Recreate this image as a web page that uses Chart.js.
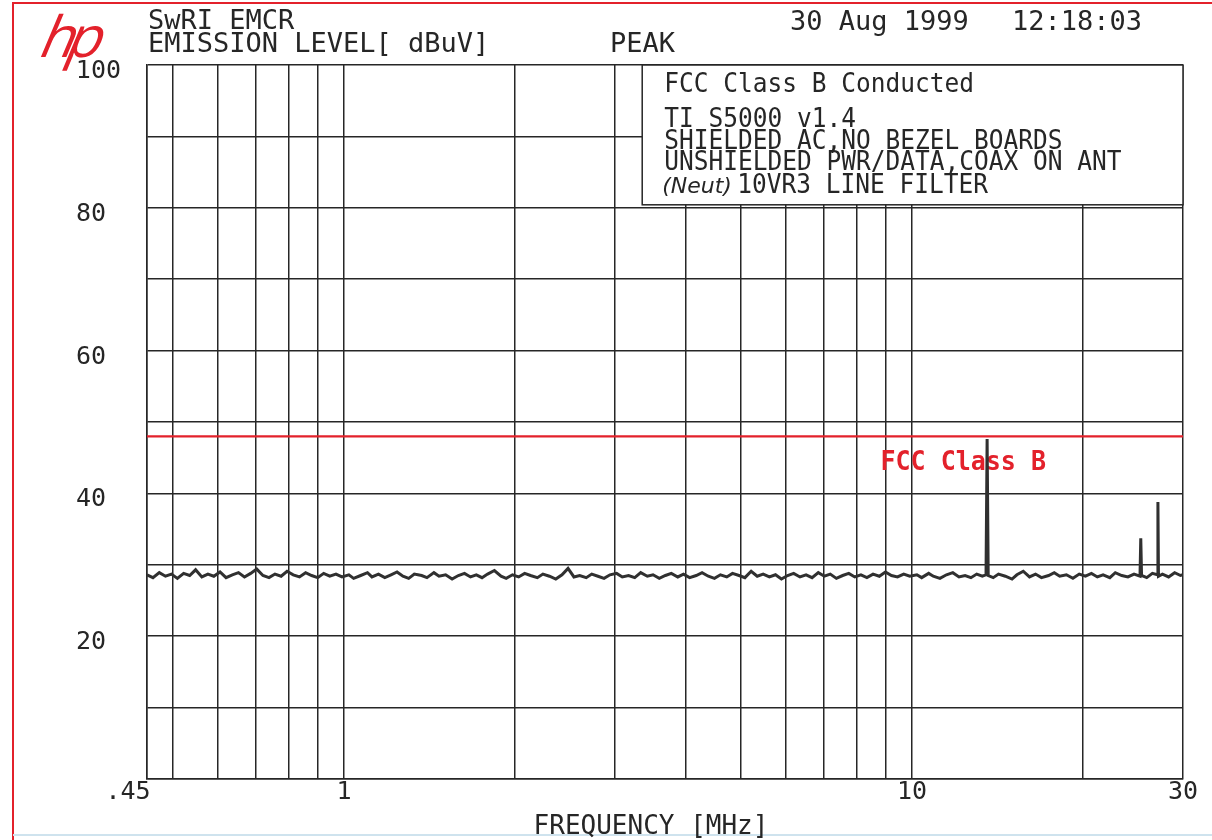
<!DOCTYPE html>
<html>
<head>
<meta charset="utf-8">
<script src="https://cdn.jsdelivr.net/npm/chart.js@4.4.0/dist/chart.umd.min.js"></script>
<style>
  html, body { margin: 0; padding: 0; background: #fff; }
  #wrap { width: 1212px; height: 840px; position: relative; }
</style>
</head>
<body>
<div id="wrap"><canvas id="plot" width="1212" height="840"></canvas></div>
<script>
// sweep frequencies (MHz)
const freqMHz = [
  0.450, 0.461, 0.473, 0.485, 0.497, 0.509, 0.522, 0.535, 0.548, 0.562,
  0.576, 0.590, 0.605, 0.620, 0.636, 0.652, 0.668, 0.685, 0.702, 0.720,
  0.738, 0.756, 0.775, 0.794, 0.814, 0.835, 0.856, 0.877, 0.899, 0.921,
  0.944, 0.968, 0.992,
  1.02, 1.04, 1.07, 1.10, 1.12, 1.15, 1.18, 1.21, 1.24, 1.27,
  1.30, 1.33, 1.37, 1.40, 1.44, 1.47, 1.51, 1.55, 1.59, 1.63,
  1.67, 1.71, 1.75, 1.79, 1.84, 1.89, 1.93, 1.98, 2.03, 2.08,
  2.13, 2.19, 2.24, 2.30, 2.36, 2.42, 2.48, 2.54, 2.60, 2.67,
  2.73, 2.80, 2.87, 2.94, 3.02, 3.09, 3.17, 3.25, 3.33, 3.42,
  3.50, 3.59, 3.68, 3.77, 3.87, 3.96, 4.06, 4.17, 4.27, 4.38,
  4.49, 4.60, 4.72, 4.83, 4.96, 5.08, 5.21, 5.34, 5.47, 5.61,
  5.75, 5.89, 6.04, 6.19, 6.35, 6.51, 6.67, 6.84, 7.01, 7.18,
  7.36, 7.55, 7.74, 7.93, 8.13, 8.33, 8.54, 8.76, 8.98, 9.20,
  9.43, 9.67, 9.91,
  10.2, 10.4, 10.7, 10.9, 11.2, 11.5, 11.8, 12.1, 12.4, 12.7,
  13.0, 13.3, 13.50, 13.56, 13.62, 13.9, 14.2, 14.6, 15.0, 15.3,
  15.7, 16.1, 16.5, 16.9, 17.4, 17.8, 18.2, 18.7, 19.2, 19.7,
  20.2, 20.7, 21.2, 21.7, 22.3, 22.8, 23.4, 24.0, 24.6, 25.2,
  25.28, 25.36, 25.9, 26.5, 27.04, 27.1, 27.16, 27.6, 28.3, 29.0,
  29.7, 30.0
];

// peak emission level (dBuV)
const levelDbuV = [
  28.6, 28.2, 28.9, 28.4, 28.7, 28.1, 28.8, 28.5, 29.3, 28.3,
  28.7, 28.4, 29.0, 28.2, 28.6, 28.9, 28.3, 28.8, 29.4, 28.5,
  28.2, 28.7, 28.4, 29.1, 28.6, 28.3, 28.9, 28.5, 28.2, 28.8,
  28.4, 28.7, 28.3,
  28.6, 28.1, 28.5, 28.9, 28.3, 28.7, 28.2, 28.6, 29.0, 28.4,
  28.1, 28.7, 28.5, 28.2, 28.9, 28.4, 28.6, 28.0, 28.5, 28.8,
  28.3, 28.6, 28.2, 28.7, 29.2, 28.4, 28.1, 28.6, 28.3, 28.8,
  28.5, 28.2, 28.7, 28.4, 28.0, 28.6, 29.5, 28.3, 28.5, 28.2,
  28.7, 28.4, 28.1, 28.6, 28.8, 28.3, 28.5, 28.2, 28.9, 28.4,
  28.6, 28.1, 28.5, 28.8, 28.3, 28.7, 28.2, 28.5, 28.9, 28.4,
  28.1, 28.6, 28.3, 28.8, 28.5, 28.2, 29.1, 28.4, 28.7, 28.3,
  28.6, 28.0, 28.5, 28.8, 28.3, 28.6, 28.2, 28.9, 28.4, 28.7,
  28.1, 28.5, 28.8, 28.3, 28.6, 28.2, 28.7, 28.4, 29.0, 28.5,
  28.3, 28.7, 28.4,
  28.6, 28.2, 28.8, 28.4, 28.1, 28.6, 28.9, 28.3, 28.5, 28.2,
  28.7, 28.4, 28.6, 47.6, 28.5, 28.2, 28.7, 28.4, 28.0, 28.6,
  29.1, 28.3, 28.7, 28.2, 28.5, 28.9, 28.4, 28.6, 28.1, 28.7,
  28.4, 28.8, 28.3, 28.6, 28.2, 28.9, 28.5, 28.3, 28.7, 28.4,
  33.7, 28.5, 28.2, 28.8, 28.6, 38.8, 28.4, 28.7, 28.3, 28.9,
  28.5, 28.6
];

// FCC class B conducted limit
const limitFreqMHz = [0.45, 30];
const limitDbuV = [48, 48];

// axis grid and labels
const xGridMHz = [0.45, 0.5, 0.6, 0.7, 0.8, 0.9, 1, 2, 3, 4, 5, 6, 7, 8, 9, 10, 20, 30];
const xLabelMHz = [0.45, 1, 10, 30];
const xLabelText = ['.45', '1', '10', '30'];
const yLabelDb = [20, 40, 60, 80, 100];

const infoLines = [
  'TI S5000 v1.4',
  'SHIELDED AC,NO BEZEL BOARDS',
  'UNSHIELDED PWR/DATA,COAX ON ANT'
];

const MONO = '"DejaVu Sans Mono", monospace';
const INK = '#262626';
const RED = '#e3212b';

function txt(ctx, s, x, y, font, color, align, sy) {
  ctx.save();
  ctx.font = font;
  ctx.fillStyle = color;
  ctx.textAlign = align || 'left';
  ctx.textBaseline = 'alphabetic';
  ctx.translate(x, y);
  ctx.scale(1, sy || 1);
  ctx.fillText(s, 0, 0);
  ctx.restore();
}

const plotterText = {
  id: 'plotterText',
  beforeDatasetsDraw(chart) {
    const { ctx } = chart;
    const xs = chart.scales.x, ys = chart.scales.y;
    // red limit label
    txt(ctx, 'FCC Class B', xs.getPixelForValue(8.8), ys.getPixelForValue(43.3),
      'bold 25px ' + MONO, RED, 'left', 1.05);
  },
  afterDraw(chart) {
    const { ctx, chartArea } = chart;
    const xs = chart.scales.x, ys = chart.scales.y;

    // red page border
    ctx.save();
    ctx.strokeStyle = RED;
    ctx.lineWidth = 2;
    ctx.beginPath();
    ctx.moveTo(13, 840); ctx.lineTo(13, 3); ctx.lineTo(1212, 3);
    ctx.stroke();
    ctx.strokeStyle = '#cfe3ee';
    ctx.beginPath(); ctx.moveTo(13, 835); ctx.lineTo(1212, 835); ctx.stroke();
    ctx.restore();

    // hp logo (slanted)
    ctx.save();
    ctx.translate(36, 57);
    ctx.transform(1, 0, -0.42, 1, 0, 0);
    ctx.font = '400 57px "Open Sans", sans-serif';
    ctx.fillStyle = RED;
    ctx.fillText('h', 0, 0);
    ctx.fillText('p', 27, 0);
    ctx.restore();

    // header
    txt(ctx, 'SwRI EMCR', 148, 29, '27px ' + MONO, INK);
    txt(ctx, 'EMISSION LEVEL[ dBuV]', 148, 52, '27px ' + MONO, INK);
    txt(ctx, 'PEAK', 610, 52, '27px ' + MONO, INK);
    txt(ctx, '30 Aug 1999', 790, 30, '27px ' + MONO, INK);
    txt(ctx, '12:18:03', 1012, 30, '27px ' + MONO, INK);

    // info box
    const bx = xs.getPixelForValue(3.35);
    const by = chartArea.top;
    const bw = chartArea.right - bx;
    const bh = ys.getPixelForValue(80) - by - 3;
    ctx.save();
    ctx.fillStyle = '#fff';
    ctx.fillRect(bx, by, bw, bh);
    ctx.strokeStyle = INK;
    ctx.lineWidth = 1.5;
    ctx.strokeRect(bx, by, bw, bh);
    ctx.restore();
    txt(ctx, 'FCC Class B Conducted', bx + 22, by + 27, '24.5px ' + MONO, INK, 'left', 1.1);
    infoLines.forEach((s, i) => {
      txt(ctx, s, bx + 22, by + 62 + i * 21.5, '24.5px ' + MONO, INK, 'left', 1.1);
    });
    txt(ctx, '(Neut)', bx + 20, by + 128, 'italic 22px "DejaVu Sans", sans-serif', INK, 'left', 1);
    txt(ctx, '10VR3 LINE FILTER', bx + 95, by + 128, '24.5px ' + MONO, INK, 'left', 1.1);

    // axis labels
    yLabelDb.forEach(v => {
      const right = v === 100 ? 121 : 106;
      txt(ctx, String(v), right, ys.getPixelForValue(v) + 13, '25px ' + MONO, INK, 'right');
    });
    xLabelMHz.forEach((v, i) => {
      txt(ctx, xLabelText[i], xs.getPixelForValue(v) - (i === 0 ? 19 : 0), chartArea.bottom + 20,
        '25px ' + MONO, INK, 'center');
    });
    txt(ctx, 'FREQUENCY [MHz]', 651, 834, '26px ' + MONO, INK, 'center');
  }
};

const trace = freqMHz.map((f, i) => ({ x: f, y: levelDbuV[i] }));
const limit = limitFreqMHz.map((f, i) => ({ x: f, y: limitDbuV[i] }));

new Chart(document.getElementById('plot'), {
  type: 'line',
  data: {
    datasets: [
      {
        label: 'Peak',
        data: trace,
        borderColor: '#303030',
        borderWidth: 3,
        pointRadius: 0,
        tension: 0,
        fill: false
      },
      {
        label: 'FCC Class B',
        data: limit,
        borderColor: RED,
        borderWidth: 2.2,
        pointRadius: 0,
        fill: false
      }
    ]
  },
  options: {
    responsive: false,
    animation: false,
    layout: { padding: { left: 147, top: 65, right: 29, bottom: 61 } },
    plugins: { legend: { display: false }, tooltip: { enabled: false } },
    scales: {
      x: {
        type: 'logarithmic',
        min: 0.45,
        max: 30,
        afterBuildTicks: scale => { scale.ticks = xGridMHz.map(v => ({ value: v })); },
        ticks: { display: false },
        grid: { color: INK, lineWidth: 1.5, drawTicks: false },
        border: { color: INK, width: 1.5 }
      },
      y: {
        min: 0,
        max: 100,
        ticks: { display: false, stepSize: 10 },
        grid: { color: INK, lineWidth: 1.5, drawTicks: false },
        border: { color: INK, width: 1.5 }
      }
    }
  },
  plugins: [plotterText]
});
</script>
</body>
</html>
